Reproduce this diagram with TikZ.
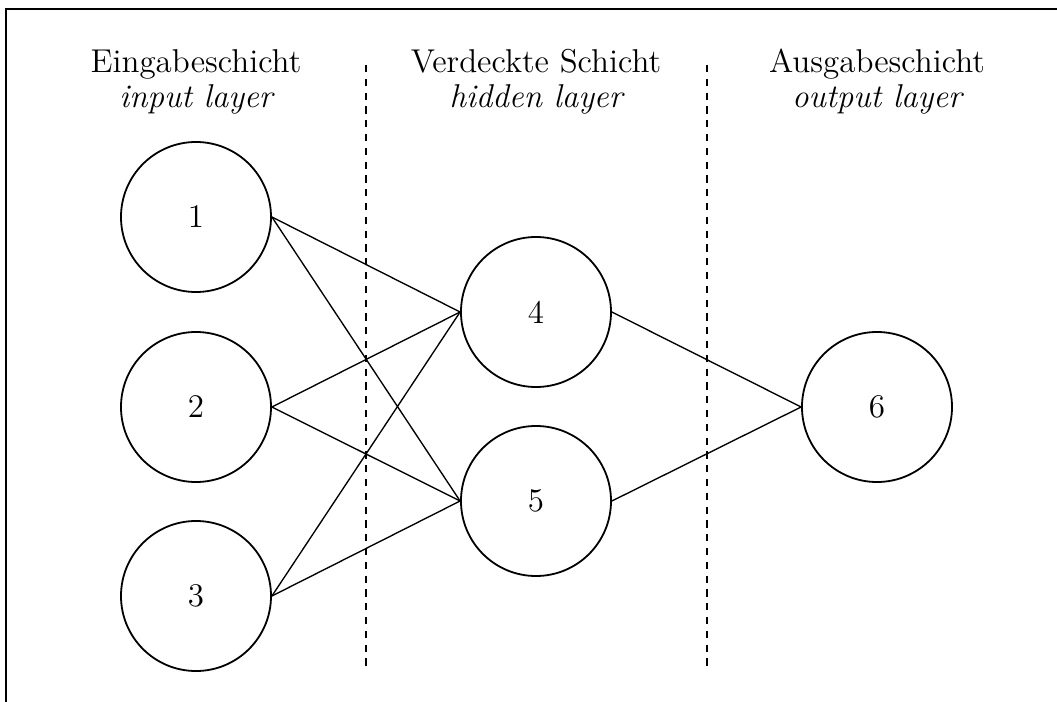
\documentclass[tikz,border=0pt]{standalone}
\begin{document}
\begin{tikzpicture}[x=0.3333pt,y=-0.3333pt,
  neuron/.style={circle,draw,line width=0.6pt,minimum size=50pt,inner sep=0pt,font=\fontsize{11}{13}\selectfont},
  conn/.style={line width=0.45pt},
  sep/.style={dashed,dash pattern=on 2.4pt off 2.2pt,line width=0.55pt},
  lbl/.style={anchor=base,inner sep=0pt,font=\fontsize{11}{13}\selectfont}]
\useasboundingbox (0,0) rectangle (1057,702);
\draw[line width=0.9pt] (6,9) rectangle (1070,720);
\node[neuron] (n1) at (196,217) {1};
\node[neuron] (n2) at (196,407) {2};
\node[neuron] (n3) at (196,596) {3};
\node[neuron] (n4) at (536,312) {4};
\node[neuron] (n5) at (536,501) {5};
\node[neuron] (n6) at (877,407) {6};
\coordinate (d1t) at (366,65);
\coordinate (d1b) at (366,670);
\coordinate (d2t) at (707,65);
\coordinate (d2b) at (707,670);
\draw[sep] (d1t) -- (d1b);
\draw[sep] (d2t) -- (d2b);
\node[lbl] (t1) at (196,73) {Eingabeschicht};
\node[lbl] (s1) at (196,108) {\itshape input layer};
\node[lbl] (t2) at (536,73) {Verdeckte Schicht};
\node[lbl] (s2) at (536,108) {\itshape hidden layer};
\node[lbl] (t3) at (877,73) {Ausgabeschicht};
\node[lbl] (s3) at (877,108) {\itshape output layer};
\foreach \a in {n1,n2,n3}{
  \foreach \b in {n4,n5}{
    \draw[conn] (\a.east) -- (\b.west);
  }
}
\draw[conn] (n4.east) -- (n6.west);
\draw[conn] (n5.east) -- (n6.west);
\end{tikzpicture}
\end{document}
